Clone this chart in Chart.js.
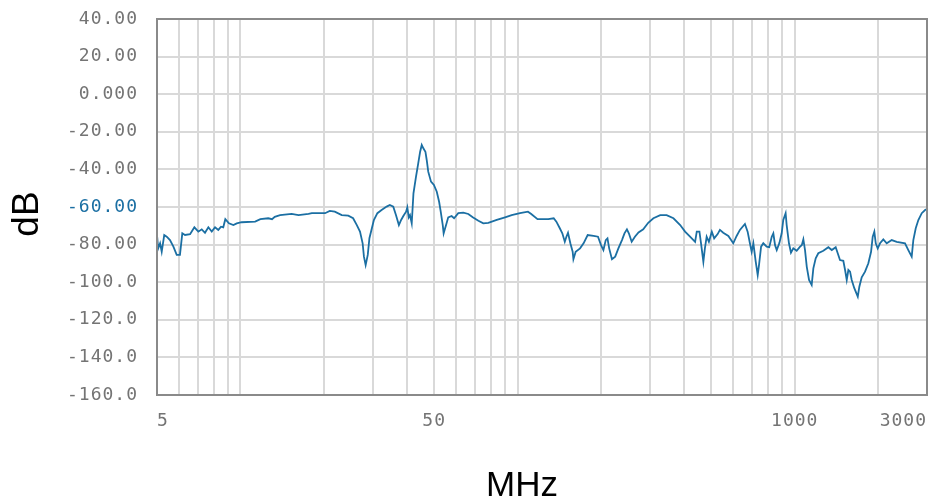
<!DOCTYPE html>
<html>
<head>
<meta charset="utf-8">
<script src="https://cdn.jsdelivr.net/npm/chart.js@4.4.0/dist/chart.umd.min.js"></script>
<style>
  html, body { margin: 0; padding: 0; background: #ffffff; }
  #wrap { width: 950px; height: 504px; position: relative; }
</style>
</head>
<body>
<div id="wrap"><canvas id="c" width="950" height="504"></canvas></div>
<script>
// ---- data ----
const freqMHz = [
  5.0, 5.05, 5.13, 5.2, 5.31, 5.42, 5.57, 5.73, 5.89, 6.05, 6.17, 6.31, 6.58, 6.82, 7.05, 7.25, 7.45, 7.66, 7.88, 8.10,
  8.32, 8.51, 8.67, 8.82, 9.09, 9.43, 9.70, 10.1, 11.3, 11.8, 12.6, 13.0, 13.3, 13.9, 15.3, 16.2, 17.6, 18.1, 20.2,
  21.0, 21.9, 23.2, 24.5, 25.5, 26.3, 27.0, 27.6, 27.9, 28.3, 28.8, 29.2, 29.8, 30.3, 31.2, 32.3, 33.7, 34.6, 35.6,
  36.4, 37.3, 38.0, 38.7, 39.6, 40.0, 40.5, 40.9, 41.5, 42.1, 43.0, 43.8, 44.5, 45.1, 45.7, 46.5, 47.0, 47.6, 48.7,
  49.9, 51.1, 52.1, 52.8, 53.7, 54.1, 55.2, 56.2, 57.8, 59.0, 61.1, 63.7, 66.4, 68.9, 72.2,
  75.2, 78.4, 84.1, 90.1, 95.2, 102, 109, 112, 118, 129, 135, 138, 142, 145, 148, 150, 152, 155, 158, 159, 162, 168,
  173, 179, 188, 195, 200, 204, 208, 211, 214, 219, 225, 231, 238, 243, 248, 252, 258, 265, 273,
  284, 296, 309, 327, 345, 365, 386, 402, 419, 437, 443, 453, 459, 468, 474, 481, 490, 502, 512, 527, 537, 552, 576,
  600, 617, 634, 661, 676, 689, 699, 709, 723, 735, 743, 756, 770, 792, 809, 826, 837, 849, 861, 880, 897, 909, 927,
  935, 953, 969, 988, 1016, 1045,
  1060, 1074, 1089, 1105, 1126, 1151, 1167, 1190, 1216, 1268, 1322, 1360, 1405, 1429, 1456, 1497, 1519, 1540, 1561,
  1583, 1605, 1640, 1688, 1710, 1744, 1793, 1843, 1885, 1911, 1937, 1960, 1992, 2031, 2087, 2147, 2238, 2333, 2499,
  2569, 2642, 2678, 2732, 2792, 2872, 2952, 3000
];
const levelDb = [
  -74.9, -82.0, -79.3, -83.8, -74.9, -75.8, -77.6, -81.1, -85.5, -85.5, -74.0, -74.9, -74.5, -70.8, -73.1, -71.9, -73.7, -70.8, -73.1, -70.8,
  -72.2, -70.5, -70.8, -66.5, -68.7, -69.6, -68.7, -68.1, -67.8, -66.5, -66.0, -66.5, -65.2, -64.3, -63.7, -64.3, -63.7, -63.3, -63.3,
  -62.1, -62.5, -64.3, -64.6, -66.0, -69.6, -73.1, -79.3, -86.4, -90.9, -85.5, -76.6, -71.3, -66.9, -63.3, -61.6, -59.8, -58.9, -59.8,
  -64.3, -69.6, -66.9, -64.8, -62.5, -60.2, -65.5, -64.3, -68.7, -52.7, -43.9, -36.8, -30.6, -27.0, -28.8, -30.6, -35.0, -41.2, -46.5,
  -48.3, -51.9, -57.2, -62.5, -69.6, -74.0, -69.6, -65.5, -64.8, -66.0, -63.3, -63.0, -63.7, -65.5, -67.3,
  -68.7, -68.4, -66.9, -65.5, -64.3, -63.3, -62.5, -63.7, -66.5, -66.5, -66.0, -67.8, -71.3, -74.0, -78.5, -75.8, -73.7, -79.3, -83.8, -87.8, -83.8, -82.0,
  -79.3, -74.9, -75.4, -75.8, -80.3, -82.9, -77.6, -76.7, -82.0, -87.8, -86.4, -82.0, -77.6, -74.0, -71.9, -74.0, -78.5, -75.8, -73.5,
  -71.9, -68.4, -66.0, -64.3, -64.3, -66.0, -69.6, -73.1, -75.8, -78.5, -73.1, -73.1, -79.3, -89.1, -82.0, -75.8, -78.5, -73.1, -76.7, -74.4, -72.2, -73.7, -75.4,
  -79.3, -75.4, -72.2, -69.0, -73.1, -79.3, -83.8, -79.3, -89.1, -96.2, -90.9, -81.1, -79.3, -81.1, -81.4, -75.8, -74.0, -80.3, -82.9, -79.2, -74.0, -66.9, -63.3,
  -69.6, -79.3, -84.3, -82.0, -83.3, -81.1,
  -80.3, -77.2, -82.9, -91.8, -98.8, -101.5, -92.6, -87.3, -84.6, -83.3, -81.4, -82.9, -81.4, -84.6, -88.2, -88.6, -93.5, -98.8, -93.5,
  -94.4, -98.8, -103.2, -107.7, -102.4, -97.4, -94.4, -89.9, -83.8, -75.8, -73.1, -79.3, -82.0, -79.3, -77.2, -79.3, -77.6, -78.5, -79.3,
  -82.9, -86.4, -77.6, -71.3, -66.9, -63.3, -61.6, -61.1
];
const yTickValues = [40, 20, 0, -20, -40, -60, -80, -100, -120, -140, -160];
const yTickLabels = ['40.00', '20.00', '0.000', '-20.00', '-40.00', '-60.00', '-80.00', '-100.0', '-120.0', '-140.0', '-160.0'];
const xGridValues = [5, 6, 7, 8, 9, 10, 20, 30, 40, 50, 60, 70, 80, 90, 100, 200, 300, 400, 500, 600, 700, 800, 900, 1000, 2000, 3000];
const xLabelValues = [5, 50, 1000, 3000];
const xTitle = 'MHz';
const yTitle = 'dB';
const highlightDb = -60;

// ---- styles ----
const LINE_COLOR = '#1b6fa3';
const TICK_COLOR = '#747474';
const GRID_COLOR = '#d9d9d9';
const TICK_FONT = { family: '"DejaVu Sans Mono", monospace', size: 18 };

const points = freqMHz.map((f, i) => ({ x: f, y: levelDb[i] }));
const yLabelMap = {};
yTickValues.forEach((v, i) => { yLabelMap[v] = yTickLabels[i]; });

const spacing = {
  id: 'spacing',
  beforeLayout(chart) { chart.ctx.letterSpacing = '1px'; },
  beforeDraw(chart) { chart.ctx.letterSpacing = '1px'; }
};

const frameAndTitles = {
  id: 'frameAndTitles',
  afterDraw(chart) {
    const { ctx, chartArea: a } = chart;
    ctx.save();
    ctx.letterSpacing = '0px';
    ctx.strokeStyle = '#8a8a8a';
    ctx.lineWidth = 2;
    ctx.strokeRect(a.left, a.top, a.right - a.left, a.bottom - a.top);
    ctx.fillStyle = '#000';
    ctx.textAlign = 'center';
    ctx.textBaseline = 'middle';
    ctx.font = '35px "Liberation Sans", Arial, sans-serif';
    ctx.fillText(xTitle, 522, 486);
    ctx.translate(28, 214);
    ctx.rotate(-Math.PI / 2);
    ctx.font = '37px "Liberation Sans", Arial, sans-serif';
    ctx.fillText(yTitle, 0, 0);
    ctx.restore();
  }
};

new Chart(document.getElementById('c'), {
  type: 'line',
  data: {
    datasets: [{
      data: points,
      borderColor: LINE_COLOR,
      borderWidth: 1.8,
      pointRadius: 0,
      tension: 0,
      fill: false
    }]
  },
  options: {
    responsive: false,
    animation: false,
    events: [],
    layout: { padding: { top: 19, right: 23, left: 0, bottom: 0 } },
    plugins: { legend: { display: false }, tooltip: { enabled: false } },
    scales: {
      x: {
        type: 'logarithmic',
        min: 5,
        max: 3000,
        afterBuildTicks: (scale) => { scale.ticks = xGridValues.map(v => ({ value: v })); },
        afterFit: (scale) => { scale.height = 109; scale.paddingLeft = 0; scale.paddingRight = 0; },
        grid: { color: GRID_COLOR, lineWidth: 2, drawTicks: false },
        border: { display: false },
        ticks: {
          autoSkip: false,
          align: 'inner',
          maxRotation: 0,
          minRotation: 0,
          padding: 16,
          color: TICK_COLOR,
          font: TICK_FONT,
          callback: (v) => xLabelValues.includes(v) ? String(v) : ''
        }
      },
      y: {
        type: 'linear',
        min: -160,
        max: 40,
        afterBuildTicks: (scale) => { scale.ticks = yTickValues.map(v => ({ value: v })); },
        afterFit: (scale) => { scale.width = 157; scale.paddingTop = 0; scale.paddingBottom = 0; },
        grid: { color: GRID_COLOR, lineWidth: 2, drawTicks: false },
        border: { display: false },
        ticks: {
          padding: 19,
          color: (c) => (c.tick && c.tick.value === highlightDb) ? LINE_COLOR : TICK_COLOR,
          font: TICK_FONT,
          callback: (v) => yLabelMap[v] !== undefined ? yLabelMap[v] : ''
        }
      }
    }
  },
  plugins: [spacing, frameAndTitles]
});
</script>
</body>
</html>
